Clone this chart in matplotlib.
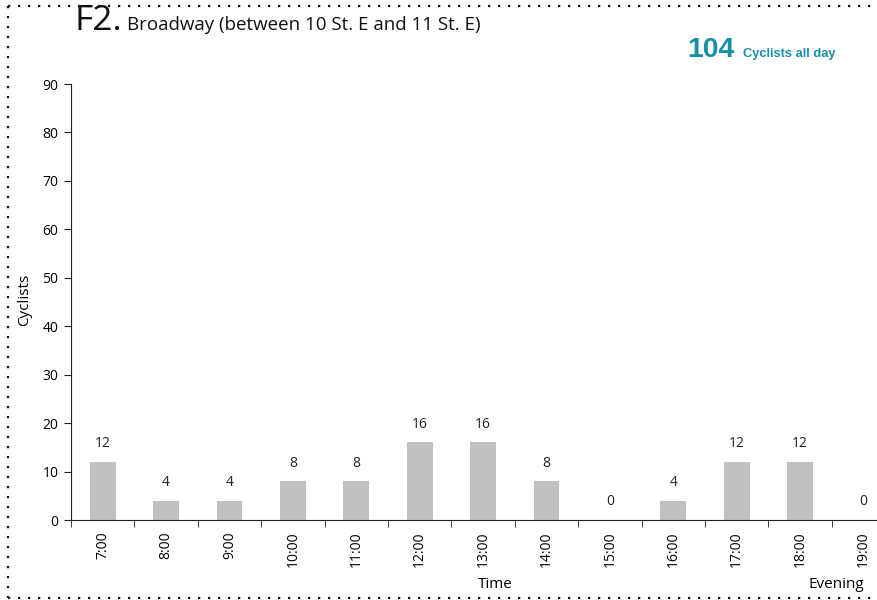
import matplotlib
matplotlib.use("Agg")
import matplotlib.pyplot as plt
from matplotlib.lines import Line2D

times = ["7:00", "8:00", "9:00", "10:00", "11:00", "12:00", "13:00",
         "14:00", "15:00", "16:00", "17:00", "18:00", "19:00"]
cyclists = [12, 4, 4, 8, 8, 16, 16, 8, 0, 4, 12, 12, 0]
total = 104
yticks = [0, 10, 20, 30, 40, 50, 60, 70, 80, 90]

plt.rcParams['font.family'] = ['Open Sans', 'DejaVu Sans']

W, H = 877, 600
fig = plt.figure(figsize=(W / 100, H / 100), dpi=100)
left = 71 / W
bottom = 1 - 520 / H
top = 1 - 84 / H
width = 13 * 63.4 / W
ax = fig.add_axes([left, bottom, width, top - bottom])

x = list(range(len(times)))
ax.bar(x, cyclists, width=0.41, color="#c0c0c0")
for xi, v in zip(x, cyclists):
    ax.text(xi, v + 2.2, str(v), ha="center", va="bottom", fontsize=10, color="#222222")

ax.set_xlim(-0.5, len(times) - 0.5)
ax.set_ylim(0, 90)
ax.set_yticks(yticks)
ax.set_yticklabels([str(t) for t in yticks], fontsize=10)
ax.set_xticks(x)
ax.set_xticklabels(times, rotation=90, fontsize=10)
ax.tick_params(axis="x", length=0, pad=8)
ax.set_xticks([i - 0.5 for i in range(len(times) + 1)], minor=True)
ax.tick_params(axis="x", which="minor", length=5, direction="out", color="#222222")
ax.tick_params(axis="y", length=5, direction="out", color="#222222", pad=4)
for s in ["top", "right"]:
    ax.spines[s].set_visible(False)
ax.spines["left"].set_color("#222222")
ax.spines["bottom"].set_color("#222222")

fig.text(25 / W, 1 - 300 / H, "Cyclists", rotation=90, ha="center", va="center", fontsize=11)
fig.text(495 / W, 1 - 585 / H, "Time", ha="center", va="center", fontsize=11)
fig.text(836 / W, 1 - 585 / H, "Evening", ha="center", va="center", fontsize=11)

fig.text(74 / W, 1 - 30 / H, "F2.", ha="left", va="baseline", fontsize=25.5, color="#111111")
fig.text(127 / W, 1 - 30 / H, "Broadway (between 10 St. E and 11 St. E)", ha="left",
         va="baseline", fontsize=13.5, color="#111111")

teal = "#1a8ea6"
fig.text(687 / W, 1 - 57 / H, str(total), ha="left", va="baseline", fontsize=20.5,
         fontweight="bold", color=teal, family=["Liberation Sans", "DejaVu Sans"])
fig.text(743 / W, 1 - 57 / H, "Cyclists all day", ha="left", va="baseline", fontsize=9.3,
         fontweight="bold", color=teal, family=["Liberation Sans", "DejaVu Sans"])

# dotted frame
dot = dict(transform=fig.transFigure, color="#111111", linestyle=(0, (1, 3.5)),
           linewidth=1.6)
fig.add_artist(Line2D([8 / W, 1.0], [1 - 6 / H, 1 - 6 / H], **dot))
fig.add_artist(Line2D([8 / W, 1.0], [1 - 598 / H, 1 - 598 / H], **dot))
fig.add_artist(Line2D([8 / W, 8 / W], [1 - 6 / H, 1 - 598 / H], **dot))

fig.savefig("out.png", dpi=100)
